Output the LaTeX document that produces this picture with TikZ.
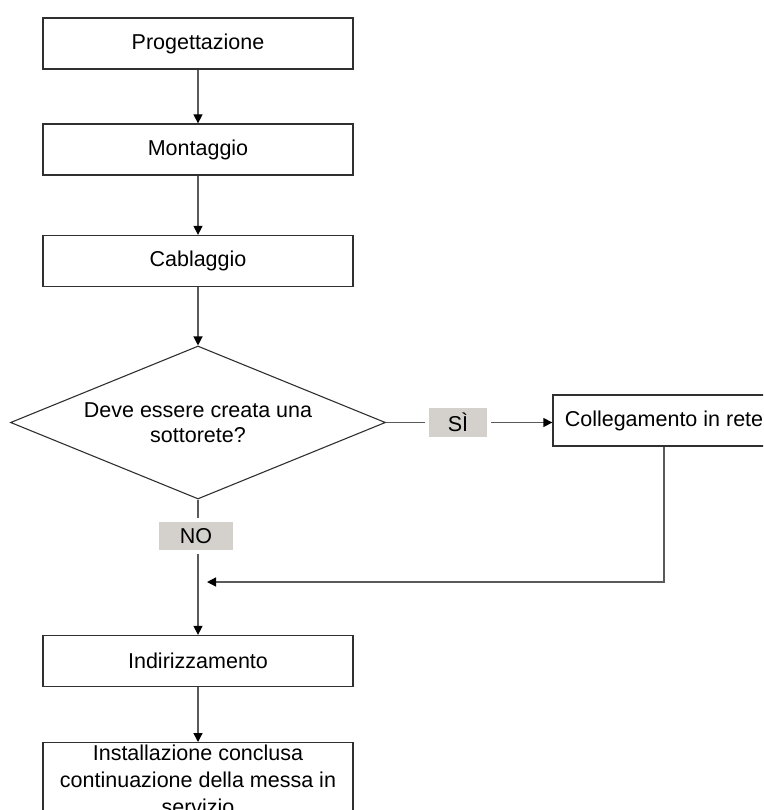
\documentclass[tikz,border=0pt]{standalone}
\usepackage{fontspec}
\setmainfont{Liberation Sans}
\usetikzlibrary{shapes.geometric,arrows.meta}
\definecolor{lbl}{HTML}{D4D0CC}
\definecolor{ln}{HTML}{5A5A5A}
\definecolor{bd}{HTML}{303030}
\tikzset{
  x=1pt,y=-1pt,
  every node/.style={font=\fontsize{21.5}{25}\selectfont},
  box/.style={draw=bd,line width=1.3pt,minimum width=310pt,minimum height=51pt,inner sep=0pt,align=center},
  lab/.style={fill=lbl,inner sep=0pt,outer sep=4pt},
  conn/.style={draw=ln,line width=1.3pt},
  arr/.style={conn,-{Triangle[length=9pt,width=9pt,black]}},
}
\begin{document}
\begin{tikzpicture}
\clip (0,0) rectangle (763,810);
\node[box] (prog) at (198,43.5) {Progettazione};
\node[box] (mont) at (198,149.5) {Montaggio};
\node[box] (cabl) at (198,261) {Cablaggio};
\node[diamond,draw=bd,line width=1.1pt,minimum width=375pt,minimum height=153pt,inner sep=0pt,aspect=2.45,align=center] (dia) at (198,422.5) {Deve essere creata una\\sottorete?};
\node[lab,minimum width=58pt,minimum height=29pt] (si) at (458,422.5) {SÌ};
\node[lab,minimum width=74pt,minimum height=28pt] (no) at (196,536) {NO};
\node[box,minimum width=222pt] (coll) at (664,420.5) {Collegamento in rete};
\node[box] (ind) at (198,661) {Indirizzamento};
\node[box,anchor=north,minimum height=0pt,inner ysep=2pt,font=\fontsize{21.5}{27}\selectfont] (fin) at (198,742) {Installazione conclusa\\continuazione della messa in\\servizio};
\coordinate (merge) at (207,582);
\draw[arr] (prog.south) -- (mont.north);
\draw[arr] (mont.south) -- (cabl.north);
\draw[arr] (cabl.south) -- (dia.north);
\draw[conn] (dia.east) -- (si.west |- dia.east);
\draw[arr] (si.east |- dia.east) -- (coll.west |- dia.east);
\draw[conn] (dia.south) -- (no.north -| dia.south);
\draw[arr] (no.south -| dia.south) -- (ind.north -| dia.south);
\draw[arr] (coll.south) |- (merge);
\draw[arr] (ind.south) -- (fin.north);
\end{tikzpicture}
\end{document}
